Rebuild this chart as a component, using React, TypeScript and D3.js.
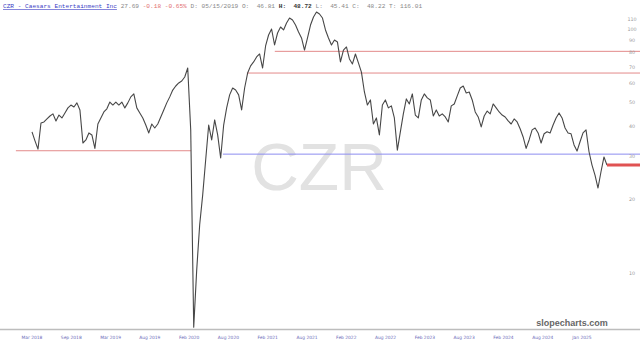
import React from 'react';
import * as d3 from 'd3';

const PRICES: number[] = [
  37.9, 34.8, 32.2, 41.2, 41.6, 42.8, 44.0, 44.9, 42.0, 44.4, 43.2, 45.3, 47.5, 48.8, 47.9, 49.8,
  46.6, 34.1, 35.1, 37.5, 36.8, 32.4, 40.8, 43.2, 45.7, 47.1, 50.2, 48.8, 50.2, 48.8, 50.2, 47.5,
  49.8, 52.7, 54.2, 47.5, 45.3, 43.2, 40.4, 37.5, 40.8, 39.3, 40.8, 43.6, 46.6, 49.8, 52.7, 56.2,
  58.4, 60.1, 61.2, 63.6, 69.2, 38.6, 6.0, 10.3, 15.8, 20.9, 29.1, 40.4, 35.1, 42.4, 36.8, 29.6,
  40.4, 47.5, 53.7, 57.3, 56.2, 53.7, 46.6, 57.3, 66.0, 70.6, 73.3, 76.8, 79.0, 69.2, 85.2, 94.5,
  100.0, 86.0, 96.3, 101.9, 99.1, 105.8, 110.9, 108.9, 103.8, 97.2, 91.9, 82.0, 91.9, 103.8, 112.0, 117.4,
  115.2, 110.9, 99.1, 91.9, 86.0, 90.1, 88.4, 73.3, 82.0, 84.4, 75.4, 71.9, 79.0, 72.6, 66.6, 55.2,
  48.8, 51.2, 40.8, 43.2, 36.8, 48.8, 51.2, 47.5, 48.4, 43.2, 31.9, 37.9, 44.9, 51.7, 49.3, 54.2,
  44.4, 43.2, 51.2, 54.2, 52.2, 51.2, 44.0, 46.6, 44.0, 44.9, 43.6, 41.6, 48.4, 49.3, 53.2, 57.3,
  58.4, 54.7, 55.2, 51.2, 45.7, 43.6, 39.7, 44.0, 46.1, 44.9, 49.3, 47.5, 45.7, 44.4, 43.6, 42.0,
  40.8, 42.8, 41.6, 39.0, 36.1, 32.4, 35.1, 38.6, 39.3, 37.5, 34.1, 37.2, 37.9, 37.5, 40.4, 43.2,
  45.3, 43.2, 39.3, 37.5, 37.2, 33.5, 31.6, 34.5, 37.5, 38.6, 31.4, 27.7, 25.2, 22.3, 26.0, 29.9,
  27.69,
];

const X_LABELS = [
  'Mar 2018', 'Sep 2018', 'Mar 2019', 'Aug 2019', 'Feb 2020', 'Aug 2020', 'Feb 2021', 'Aug 2021',
  'Feb 2022', 'Aug 2022', 'Feb 2023', 'Aug 2023', 'Feb 2024', 'Aug 2024', 'Jan 2025',
];
const Y_TICKS = [10, 20, 30, 40, 50, 60, 70, 80, 90, 100, 110];

// Drawn support / resistance levels (price, from-slot, to-slot, kind)
const LEVEL_PRICES = [31.7, 30.7, 81.0, 66.0];
const LEVEL_FROM = [-0.41, 4.86, 6.18, 5.47];
const LEVEL_TO = [4.05, 15.5, 15.5, 15.5];
const LEVEL_KIND = ['red', 'blue', 'red', 'red'];

const LAST_PRICE = 27.69;
const DATA_END_SLOT = 14.636;

const HEADER_TITLE = 'CZR - Caesars Entertainment Inc';
const HEADER_LAST = ' 27.69';
const HEADER_CHG = ' -0.18 -0.65%';
const HEADER_D = ' D: 05/15/2019 O:  46.81';
const HEADER_H = ' H:  48.72';
const HEADER_REST = ' L:  45.41 C:  48.22 T: 116.01';

export default function App() {
  const W = 640;
  const H = 345;
  const x = d3.scaleLinear().domain([0, 14]).range([32, 582]);
  const y = d3.scaleLog().domain([10, 100]).range([273, 29]);
  const n = PRICES.length;
  const line = d3
    .line<number>()
    .x((_, i) => x((i * DATA_END_SLOT) / (n - 1)))
    .y((d) => y(d));

  const levelColor = (k: string) => (k === 'red' ? '#e38a8a' : '#8d8df0');

  return (
    <svg
      width={W}
      height={H}
      style={{ position: 'absolute', left: 0, top: 0, background: '#fff' }}
    >
      <rect x={0} y={0} width={W} height={H} fill="#fff" />
      {/* watermark */}
      <text
        x={319}
        y={190}
        textAnchor="middle"
        fontFamily="Liberation Sans, Arial, sans-serif"
        fontSize={66}
        fill="#e2e2e2"
      >
        CZR
      </text>

      {/* levels */}
      {LEVEL_PRICES.map((p, i) => (
        <line
          key={'lv' + i}
          x1={x(LEVEL_FROM[i])}
          x2={x(LEVEL_TO[i])}
          y1={y(p)}
          y2={y(p)}
          stroke={levelColor(LEVEL_KIND[i])}
          strokeWidth={1}
        />
      ))}

      {/* price */}
      <path d={line(PRICES) || ''} fill="none" stroke="#474747" strokeWidth={1.1} strokeLinejoin="round" />

      {/* last price marker */}
      <line
        x1={x(DATA_END_SLOT)}
        x2={W}
        y1={y(LAST_PRICE)}
        y2={y(LAST_PRICE)}
        stroke="#e05252"
        strokeWidth={3}
      />

      {/* right axis labels */}
      {Y_TICKS.map((t) => (
        <text
          key={'yt' + t}
          x={632}
          y={y(t) + 1.8}
          textAnchor="middle"
          fontFamily="DejaVu Sans, sans-serif"
          fontSize={4.8}
          fill="#9a9a9a"
        >
          {t}
        </text>
      ))}

      {/* bottom axis */}
      <line x1={0} x2={W} y1={329.5} y2={329.5} stroke="#bdbdbd" strokeWidth={1.5} />
      {X_LABELS.map((l, i) => (
        <text
          key={'xl' + i}
          x={x(i)}
          y={338.5}
          textAnchor="middle"
          fontFamily="DejaVu Sans, sans-serif"
          fontSize={4.4}
          fill="#6a6ab8"
        >
          {l}
        </text>
      ))}

      <text
        x={572}
        y={326}
        textAnchor="middle"
        fontFamily="Liberation Sans, Arial, sans-serif"
        fontWeight="bold"
        fontSize={9}
        fill="#666"
      >
        slopecharts.com
      </text>

      {/* header */}
      <text
        x={3}
        y={8}
        fontFamily="Liberation Mono, monospace"
        fontSize={6.13}
        xmlSpace="preserve"
        style={{ whiteSpace: 'pre' }}
      >
        <tspan fill="#3b3bc4" textDecoration="underline">{HEADER_TITLE}</tspan>
        <tspan fill="#888">{HEADER_LAST}</tspan>
        <tspan fill="#e27070">{HEADER_CHG}</tspan>
        <tspan fill="#888">{HEADER_D}</tspan>
        <tspan fill="#333" fontWeight="bold">{HEADER_H}</tspan>
        <tspan fill="#888">{HEADER_REST}</tspan>
      </text>
    </svg>
  );
}
